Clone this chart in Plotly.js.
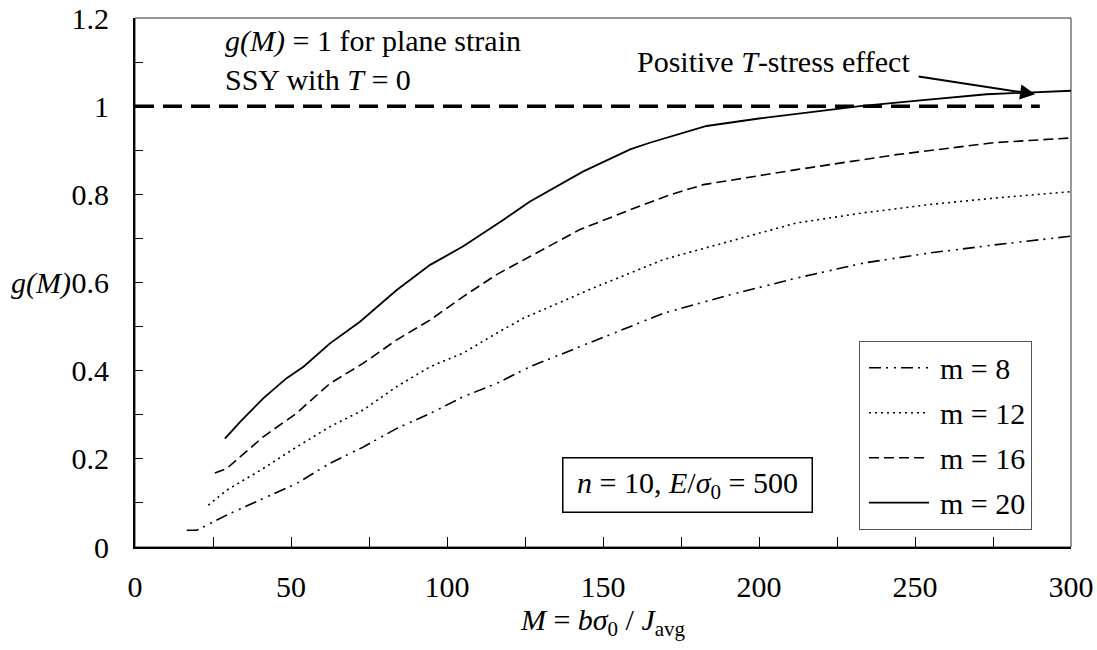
<!DOCTYPE html>
<html>
<head>
<meta charset="utf-8">
<script src="https://cdn.plot.ly/plotly-3.0.1.min.js"></script>
<style>html,body{margin:0;padding:0;background:#fff;}#chart{width:1097px;height:650px;}</style>
</head>
<body>
<div id="chart"></div>
<script>
// ---- data ----
const seriesNames = ["m = 8", "m = 12", "m = 16", "m = 20"];

const m8_x  = [16.6, 19.8, 30.4, 41.1, 51.8, 62.5, 73.2, 83.9, 94.6, 105.2, 115.9, 126.6, 148, 169.3, 190.7, 212, 233.4, 254.8, 276.2, 300];
const m8_y  = [0.038, 0.038, 0.076, 0.11, 0.144, 0.19, 0.227, 0.269, 0.303, 0.341, 0.371, 0.409, 0.47, 0.530, 0.572, 0.61, 0.644, 0.667, 0.686, 0.705];

const m12_x = [23.5, 29.4, 41.1, 51.8, 62.5, 73.2, 83.9, 94.6, 105.2, 115.9, 124.5, 148, 169.3, 190.7, 212, 233.4, 254.8, 276.2, 300];
const m12_y = [0.095, 0.129, 0.178, 0.227, 0.273, 0.311, 0.364, 0.409, 0.44, 0.485, 0.519, 0.591, 0.652, 0.693, 0.735, 0.758, 0.777, 0.792, 0.806];

const m16_x = [25.6, 29.4, 41.1, 51.7, 62.5, 73.2, 83.9, 94.6, 105.2, 115.9, 126.6, 142.6, 158.7, 172, 182.2, 212, 244, 275, 300];
const m16_y = [0.168, 0.178, 0.25, 0.303, 0.371, 0.417, 0.47, 0.515, 0.568, 0.618, 0.659, 0.72, 0.765, 0.80, 0.822, 0.856, 0.89, 0.917, 0.928];

const m20_x = [28.8, 33.7, 41.1, 48.6, 54.0, 62.5, 72.1, 83.9, 94.6, 105.2, 118.0, 126.6, 143.7, 158.7, 165.0, 183.2, 200, 232.4, 250, 273.0, 300];
const m20_y = [0.246, 0.284, 0.337, 0.383, 0.409, 0.462, 0.511, 0.583, 0.640, 0.682, 0.742, 0.784, 0.852, 0.902, 0.917, 0.955, 0.972, 1.000, 1.012, 1.027, 1.035];

// reference line g(M) = 1
const ref_x = [0, 290];
const ref_y = [1, 1];

// arrow target (Positive T-stress effect)
const arrowPoint = {x: 288.5, y: 1.027};

const xTickVals = [0, 50, 100, 150, 200, 250, 300];
const yTickVals = [0, 0.2, 0.4, 0.6, 0.8, 1, 1.2];
const yTickText = ["0", "0.2", "0.4", "0.6", "0.8", "1", "1.2"];

// ---- drawing ----
const FONT = '"Liberation Serif", "Times New Roman", serif';
const FS = 30;

const styles = [
  {dash: "12px,5px,2px,6px,2px,5px", width: 1.6},
  {dash: "2px,4px", width: 1.6},
  {dash: "10px,5px", width: 1.6},
  {dash: "solid", width: 1.8}
];
const xs = [m8_x, m12_x, m16_x, m20_x];
const ys = [m8_y, m12_y, m16_y, m20_y];

const traces = seriesNames.map((n, i) => ({
  x: xs[i], y: ys[i], name: n, type: "scatter", mode: "lines",
  legendgroup: "g" + i,
  line: {color: "#000", dash: styles[i].dash, width: styles[i].width, shape: "linear"}
}));

traces.push({
  x: ref_x, y: ref_y, type: "scatter", mode: "lines", showlegend: false,
  line: {color: "#000", dash: "19px,9px", width: 3.5}, hoverinfo: "skip"
});

const layout = {
  width: 1097, height: 650,
  margin: {l: 135, r: 26, t: 18, b: 103},
  paper_bgcolor: "#fff", plot_bgcolor: "#fff",
  font: {family: FONT, size: FS, color: "#000"},
  showlegend: true,
  legend: {
    x: 0.7735, y: 0.39, xanchor: "left", yanchor: "top",
    bordercolor: "#555", borderwidth: 1, bgcolor: "#fff",
    font: {family: FONT, size: FS, color: "#000"},
    traceorder: "grouped", tracegroupgap: 3, itemwidth: 70
  },
  xaxis: {
    range: [0, 300], tickvals: xTickVals, ticks: "inside", ticklen: 10, tickwidth: 1, tickcolor: "#000",
    minor: {dtick: 25, tick0: 0, ticks: "inside", ticklen: 10, tickcolor: "#000", showgrid: false},
    showline: true, linewidth: 2, linecolor: "#000", mirror: false,
    showgrid: false, zeroline: false, ticklabelstandoff: 12,
    tickfont: {family: FONT, size: FS, color: "#000"},
    title: {text: "<i>M</i> = <i>bσ</i><sub>0</sub> / <i>J</i><sub>avg</sub>", standoff: 2, font: {family: FONT, size: FS, color: "#000"}}
  },
  yaxis: {
    range: [0, 1.2], tickvals: yTickVals, ticktext: yTickText, ticks: "inside", ticklen: 8, tickwidth: 1, tickcolor: "#000",
    minor: {dtick: 0.1, tick0: 0, ticks: "inside", ticklen: 8, tickcolor: "#000", showgrid: false},
    showline: true, linewidth: 2, linecolor: "#000",
    showgrid: false, zeroline: false, ticklabelstandoff: 18,
    tickfont: {family: FONT, size: FS, color: "#000"}
  },
  shapes: [
    {type: "rect", xref: "paper", yref: "paper", x0: 0, x1: 1, y0: 0, y1: 1, line: {color: "#333", width: 1}, layer: "below"}
  ],
  annotations: [
    {xref: "paper", yref: "y", x: -0.1, y: 0.6, xanchor: "center", yanchor: "middle", showarrow: false,
     text: "<i>g(M)</i>", font: {family: FONT, size: FS, color: "#000"}},
    {xref: "x", yref: "y", x: 28.2, y: 1.19, xanchor: "left", yanchor: "top", align: "left", showarrow: false,
     text: "<i>g(M)</i> = 1 for plane strain<br>SSY with <i>T</i> = 0", font: {family: FONT, size: FS, color: "#000"}},
    {xref: "x", yref: "y", x: 204.5, y: 1.1016, xanchor: "center", yanchor: "middle", showarrow: false,
     text: "Positive <i>T</i>-stress effect", font: {family: FONT, size: FS, color: "#000"}},
    {xref: "x", yref: "y", x: arrowPoint.x, y: arrowPoint.y, text: "", showarrow: true,
     ax: -118, ay: -18, arrowhead: 2, arrowsize: 1.5, arrowwidth: 2, arrowcolor: "#000", standoff: 0},
    {xref: "x", yref: "y", x: 177.2, y: 0.14, xanchor: "center", yanchor: "middle", showarrow: false,
     text: "<i>n</i> = 10, <i>E</i>/<i>σ</i><sub>0</sub> = 500", bordercolor: "#000", borderwidth: 1.5, borderpad: 8,
     width: 232, height: 37,
     bgcolor: "#fff", font: {family: FONT, size: FS, color: "#000"}}
  ]
};

Plotly.newPlot("chart", traces, layout, {displayModeBar: false, staticPlot: true}).then(function (gd) {
  // lengthen the legend line samples to match the reference
  gd.querySelectorAll(".legend .legendlines path").forEach(function (p) {
    p.setAttribute("d", "M9,0h60");
  });
});
</script>
</body>
</html>
